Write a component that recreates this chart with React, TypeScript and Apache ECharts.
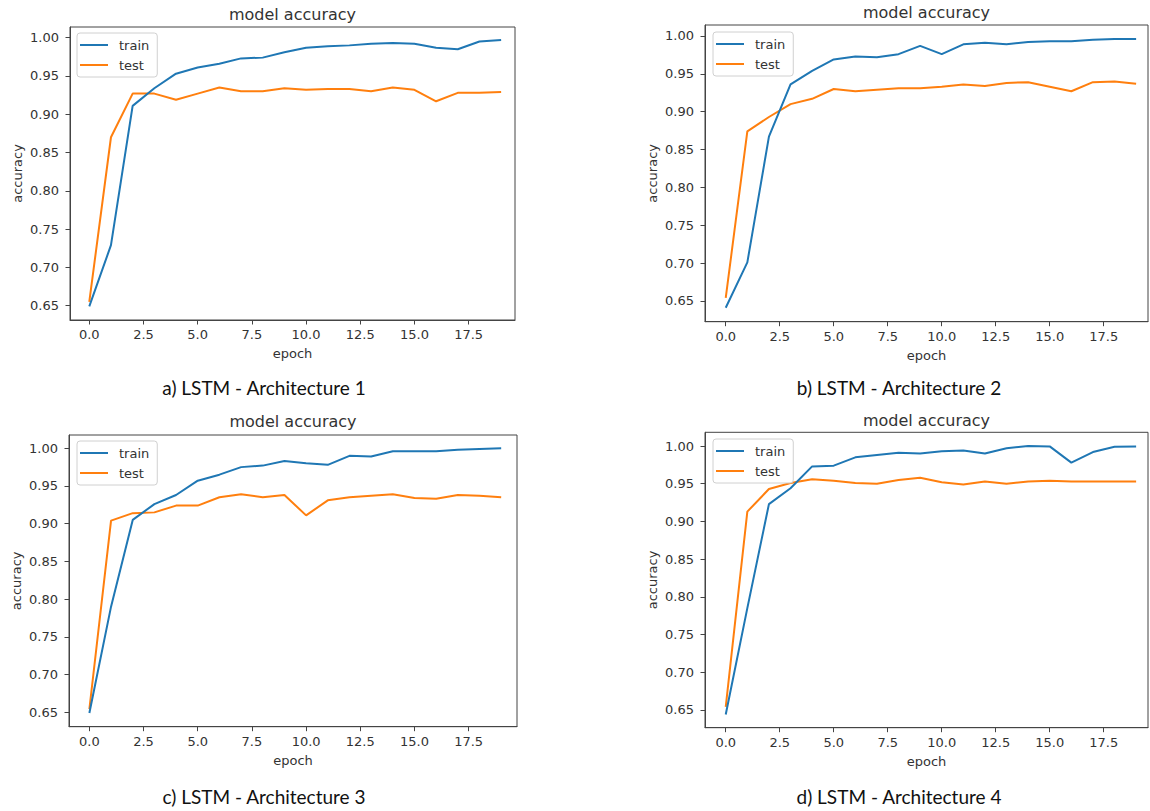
import React, { useEffect, useRef } from "react";
import * as echarts from "echarts";

const epochs = [0, 1, 2, 3, 4, 5, 6, 7, 8, 9, 10, 11, 12, 13, 14, 15, 16, 17, 18, 19];
const xTicks = [0, 2.5, 5, 7.5, 10, 12.5, 15, 17.5];
const yTicks = [0.65, 0.7, 0.75, 0.8, 0.85, 0.9, 0.95, 1.0];
const seriesNames = ["train", "test"];
const chartTitle = "model accuracy";
const xName = "epoch";
const yName = "accuracy";
const captions = [
  "a) LSTM - Architecture 1",
  "b) LSTM - Architecture 2",
  "c) LSTM - Architecture 3",
  "d) LSTM - Architecture 4",
];

const trainA = [0.649, 0.729, 0.911, 0.934, 0.953, 0.961, 0.966, 0.973, 0.974, 0.981, 0.987, 0.989, 0.99, 0.992, 0.993, 0.992, 0.987, 0.985, 0.995, 0.997];
const testA = [0.655, 0.87, 0.927, 0.927, 0.919, 0.927, 0.935, 0.93, 0.93, 0.934, 0.932, 0.933, 0.933, 0.93, 0.935, 0.932, 0.917, 0.928, 0.928, 0.929];
const trainB = [0.641, 0.701, 0.867, 0.936, 0.954, 0.969, 0.973, 0.972, 0.976, 0.987, 0.976, 0.989, 0.991, 0.989, 0.992, 0.993, 0.993, 0.995, 0.996, 0.996];
const testB = [0.654, 0.874, 0.893, 0.91, 0.917, 0.93, 0.927, 0.929, 0.931, 0.931, 0.933, 0.936, 0.934, 0.938, 0.939, 0.933, 0.927, 0.939, 0.94, 0.937];
const trainC = [0.649, 0.79, 0.905, 0.926, 0.938, 0.957, 0.965, 0.975, 0.977, 0.983, 0.98, 0.978, 0.99, 0.989, 0.996, 0.996, 0.996, 0.998, 0.999, 1.0];
const testC = [0.654, 0.904, 0.914, 0.915, 0.924, 0.924, 0.935, 0.939, 0.935, 0.938, 0.911, 0.931, 0.935, 0.937, 0.939, 0.934, 0.933, 0.938, 0.937, 0.935];
const trainD = [0.644, 0.785, 0.923, 0.944, 0.973, 0.974, 0.985, 0.988, 0.991, 0.99, 0.993, 0.994, 0.99, 0.997, 1.0, 0.9995, 0.978, 0.992, 0.999, 0.9995];
const testD = [0.654, 0.913, 0.943, 0.951, 0.956, 0.954, 0.951, 0.95, 0.955, 0.958, 0.952, 0.949, 0.953, 0.95, 0.953, 0.954, 0.953, 0.953, 0.953, 0.953];

const panelData = [
  [trainA, testA],
  [trainB, testB],
  [trainC, testC],
  [trainD, testD],
];

// layout (pixels) and axis extents
const panels = [
  { l: 70, t: 27, r: 515, b: 320, xMin: -0.89, xMax: 19.64, yMin: 0.6313, yMax: 1.014, capX: 264, capY: 387, titleY: 14, legL: 77, legT: 33 },
  { l: 705, t: 25, r: 1148, b: 321.7, xMin: -0.96, xMax: 19.55, yMin: 0.6226, yMax: 1.0145, capX: 899, capY: 387, titleY: 12.5, legL: 713, legT: 32 },
  { l: 69, t: 435, r: 517, b: 726.7, xMin: -0.94, xMax: 19.73, yMin: 0.6308, yMax: 1.0176, capX: 264, capY: 796, titleY: 421.5, legL: 77, legT: 441 },
  { l: 705, t: 432.3, r: 1148, b: 727.7, xMin: -0.96, xMax: 19.55, yMin: 0.6265, yMax: 1.0182, capX: 899, capY: 796, titleY: 420, legL: 713, legT: 439 },
];

const COLORS = ["#1f77b4", "#ff7f0e"];
const FONT = "DejaVu Sans";
const TEXT = "#333";
const FRAME = "#444";

export default function App() {
  const ref = useRef<HTMLDivElement>(null);
  useEffect(() => {
    if (!ref.current) return;
    const chart = echarts.init(ref.current, undefined, { renderer: "svg" });
    const grid: any[] = [];
    const xAxis: any[] = [];
    const yAxis: any[] = [];
    const series: any[] = [];
    const legend: any[] = [];
    const graphic: any[] = [];
    panels.forEach((p, k) => {
      grid.push({
        left: p.l,
        top: p.t,
        width: p.r - p.l,
        height: p.b - p.t,
        show: true,
        borderColor: FRAME,
        borderWidth: 1,
        backgroundColor: "transparent",
      });
      xAxis.push({
        type: "value",
        gridIndex: k,
        min: p.xMin,
        max: p.xMax,
        name: xName,
        nameLocation: "middle",
        nameGap: 27,
        nameTextStyle: { fontFamily: FONT, fontSize: 13, color: TEXT },
        axisLine: { show: true, onZero: false, lineStyle: { color: FRAME, width: 1 } },
        axisTick: { show: true, inside: false, length: 4.5, customValues: xTicks, lineStyle: { color: FRAME } },
        axisLabel: {
          customValues: xTicks,
          margin: 8,
          fontFamily: FONT,
          fontSize: 13,
          color: TEXT,
          formatter: (v: number) => v.toFixed(1),
        },
        splitLine: { show: false },
      });
      yAxis.push({
        type: "value",
        gridIndex: k,
        min: p.yMin,
        max: p.yMax,
        name: yName,
        nameLocation: "middle",
        nameGap: 46,
        nameTextStyle: { fontFamily: FONT, fontSize: 13, color: TEXT },
        axisLine: { show: true, onZero: false, lineStyle: { color: FRAME, width: 1 } },
        axisTick: { show: true, inside: false, length: 4.5, customValues: yTicks, lineStyle: { color: FRAME } },
        axisLabel: {
          customValues: yTicks,
          margin: 11,
          fontFamily: FONT,
          fontSize: 13,
          color: TEXT,
          formatter: (v: number) => v.toFixed(2),
        },
        splitLine: { show: false },
      });
      panelData[k].forEach((vals, s) => {
        series.push({
          type: "line",
          name: seriesNames[s],
          xAxisIndex: k,
          yAxisIndex: k,
          data: epochs.map((e, i) => [e, vals[i]]),
          symbol: "none",
          lineStyle: { color: COLORS[s], width: 2 },
          itemStyle: { color: COLORS[s] },
          z: 3 + (1 - s),
        });
      });
      legend.push({
        data: seriesNames.map((n) => ({ name: n, icon: "rect" })),
        orient: "vertical",
        left: p.legL,
        top: p.legT,
        itemWidth: 28,
        itemHeight: 2,
        itemGap: 6,
        padding: [5, 8, 5, 3],
        backgroundColor: "rgba(255,255,255,0.85)",
        borderColor: "#d0d0d0",
        borderWidth: 1,
        borderRadius: 3,
        selectedMode: false,
        textStyle: { fontFamily: FONT, fontSize: 13, color: TEXT, lineHeight: 14, padding: [0, 0, 0, 6] },
      });
      graphic.push({
        type: "text",
        x: (p.l + p.r) / 2,
        y: p.titleY,
        style: { text: chartTitle, fontFamily: FONT, fontSize: 16, fill: TEXT, align: "center", verticalAlign: "middle" },
      });
      graphic.push({
        type: "text",
        x: p.capX,
        y: p.capY,
        style: { text: captions[k], fontFamily: "Lato", fontSize: 19, fill: "#111", align: "center", verticalAlign: "middle" },
      });
    });
    chart.setOption({
      animation: false,
      backgroundColor: "#fff",
      grid,
      xAxis,
      yAxis,
      series,
      legend,
      graphic,
    });
    return () => chart.dispose();
  }, []);
  return <div ref={ref} style={{ position: "fixed", left: 0, top: 0, width: 1150, height: 811, background: "#fff" }} />;
}
